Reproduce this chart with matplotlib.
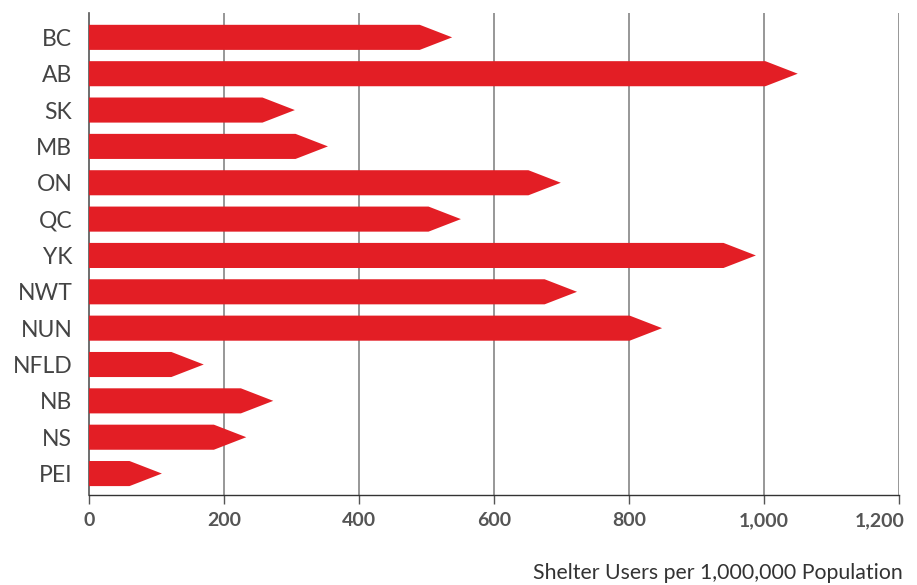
import matplotlib
matplotlib.use("Agg")
import matplotlib.pyplot as plt
from matplotlib.patches import Polygon
from matplotlib.transforms import ScaledTranslation

plt.rcParams["font.family"] = ["Lato", "DejaVu Sans"]

# shelter users per 1,000,000 population, by province / territory
regions = ["BC", "AB", "SK", "MB", "ON", "QC", "YK", "NWT", "NUN", "NFLD", "NB", "NS", "PEI"]
users_per_million = [538, 1050, 305, 354, 699, 551, 988, 723, 849, 170, 273, 233, 108]
x_ticks = [0, 200, 400, 600, 800, 1000, 1200]
x_tick_labels = ["0", "200", "400", "600", "800", "1,000", "1,200"]

RED = "#e31e25"
HEAD = 48      # arrow head length, data units
HEIGHT = 0.69  # bar thickness

fig = plt.figure(figsize=(9.17, 5.85), dpi=100)
ax = fig.add_axes([89 / 917, 90 / 585, 810 / 917, 482 / 585])

n = len(regions)
ypos = [n - 1 - i for i in range(n)]

for y, v in zip(ypos, users_per_million):
    h = HEIGHT / 2
    pts = [(0, y - h), (v - HEAD, y - h), (v, y), (v - HEAD, y + h), (0, y + h)]
    ax.add_patch(Polygon(pts, closed=True, facecolor=RED, edgecolor="none", zorder=3))

ax.set_xlim(0, 1200)
ax.set_ylim(-0.59, n - 1 + 0.67)

# vertical grid
for t in x_ticks[1:]:
    ax.axvline(t, color="#7a7a7a", lw=1.1, zorder=1)

ax.set_yticks(ypos)
ax.set_yticklabels(regions, fontsize=16.5, color="#444444")
ax.tick_params(axis="y", length=0, pad=12)

ax.set_xticks(x_ticks)
ax.set_xticklabels(x_tick_labels, fontsize=14, fontweight="bold", color="#555555")
ax.tick_params(axis="x", length=6.5, width=1, color="#555555", pad=6)
# keep the last label inside the figure
last = ax.get_xticklabels()[-1]
last.set_transform(last.get_transform() + ScaledTranslation(-19 / 100, 0, fig.dpi_scale_trans))

for side in ["top", "right"]:
    ax.spines[side].set_visible(False)
ax.spines["left"].set_color("#555555")
ax.spines["left"].set_linewidth(1.2)
ax.spines["bottom"].set_color("#333333")
ax.spines["bottom"].set_linewidth(1)

ax.set_xlabel("Shelter Users per 1,000,000 Population", fontsize=15.3, fontweight="normal",
              color="#333333", loc="right")
ax.xaxis.set_label_coords((903 - 89) / 810, -(573 - 495) / 482)
ax.xaxis.label.set_va("center")

fig.savefig("out.png", dpi=100)
